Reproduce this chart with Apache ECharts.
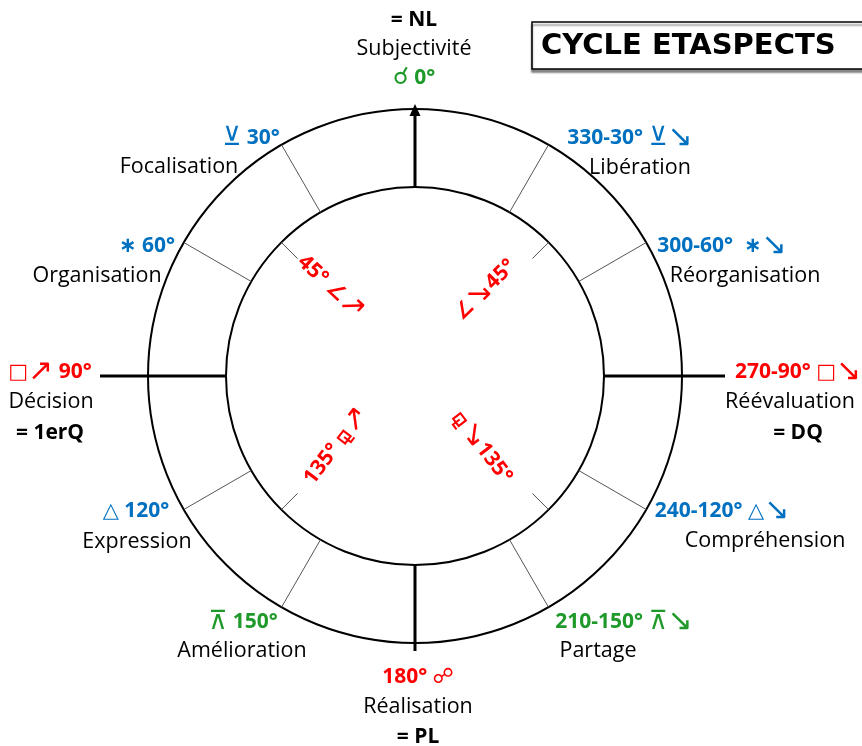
<!DOCTYPE html>
<html>
<head>
<meta charset="utf-8">
<script src="https://cdn.jsdelivr.net/npm/echarts@6/dist/echarts.min.js"></script>
<style>html,body{margin:0;padding:0;background:#fff}#c{width:862px;height:746px}</style>
</head>
<body>
<div id="c"></div>
<script>
// ---- data ----
const TITLE = 'CYCLE ETASPECTS';
const MAJOR_ANGLES = [0, 90, 180, 270];
const MAJOR_OUTER_R = [266, 315, 275, 310];
const MINOR_ANGLES = [30, 60, 120, 150, 210, 240, 300, 330];
const INNER_TICK_ANGLES = [45, 135, 225, 315];
const RING_RADII = [189, 267];
const ASPECT_LABELS = ['☌ 0°', '⊻ 30°', '330-30° ⊻↘', '∗ 60°', '300-60°  ∗↘', '□↗ 90°', '270-90° □↘',
  '△ 120°', '240-120° △↘', '⊼ 150°', '210-150° ⊼↘', '180° ☍'];
const ASPECT_KIND = ['g', 'b', 'b', 'b', 'b', 'r', 'r', 'b', 'b', 'g', 'g', 'r'];
const PHASE_NAMES = ['Subjectivité', 'Focalisation', 'Libération', 'Organisation', 'Réorganisation', 'Décision',
  'Réévaluation', 'Expression', 'Compréhension', 'Amélioration', 'Partage', 'Réalisation'];
const LUNAR_NAMES = ['= NL', '= 1erQ', '= DQ', '= PL'];
const INNER_LABELS = ['45° ∠↗', '∠↘45°', '135° ⚼↗', '⚼↘135°'];

// ---- layout (positions / styles, kept separate) ----
const CX = 415, CY = 376;
const COLORS = { g: '#1f9a2a', b: '#0070C0', r: '#FF0000' };
const ASPECT_POS = [[414,78],[251,138],[630,138],[147,246],[722,246],[50,372],[798,372],[136,511],[722,511],[243,622],[624,622],[418,677]];
const NAME_POS = [[414,49],[179,167],[640,168],[97,276],[745,276],[51,402],[790,402],[137,542],[765,541],[242,651],[598,651],[418,707]];
const LUNAR_POS = [[414,20],[50,433],[798,433],[418,737]];
const INNER_POS = [[331,287],[485,290],[336,446],[482,447]];
const INNER_ROT = [-0.75, 0.78, 0.92, -0.92];
const FONT = '"Open Sans", "DejaVu Sans", sans-serif';

const chart = echarts.init(document.getElementById('c'));

function hiddenAngle(i) {
  return { polarIndex: i, type: 'value', min: 0, max: 360, startAngle: 90, clockwise: false,
    axisLine: { show: false }, axisTick: { show: false }, axisLabel: { show: false }, splitLine: { show: false } };
}
function hiddenRadius(i, max) {
  return { polarIndex: i, type: 'value', min: 0, max: max,
    axisLine: { show: false }, axisTick: { show: false }, axisLabel: { show: false }, splitLine: { show: false } };
}

const SPOKE_R = 330;
const polar = [{ center: [CX, CY], radius: SPOKE_R }];
const angleAxis = [hiddenAngle(0)];
const radiusAxis = [hiddenRadius(0, SPOKE_R)];
RING_RADII.forEach((r, k) => {
  polar.push({ center: [CX, CY], radius: r });
  const a = hiddenAngle(k + 1);
  a.axisLine = { show: true, lineStyle: { color: '#000', width: 2 } };
  angleAxis.push(a);
  radiusAxis.push(hiddenRadius(k + 1, r));
});

const series = [];
MAJOR_ANGLES.forEach((ang, i) => {
  const end = { value: [MAJOR_OUTER_R[i], ang] };
  if (ang === 0) { end.symbol = 'triangle'; end.symbolSize = [11, 12]; }
  series.push({ type: 'line', coordinateSystem: 'polar', polarIndex: 0, silent: true, animation: false,
    symbol: 'none', showSymbol: true, itemStyle: { color: '#000' },
    lineStyle: { color: '#000', width: 3 }, data: [[RING_RADII[0], ang], end] });
});
MINOR_ANGLES.forEach(ang => {
  series.push({ type: 'line', coordinateSystem: 'polar', polarIndex: 0, silent: true, animation: false,
    symbol: 'none', lineStyle: { color: '#555', width: 1 }, data: [[RING_RADII[0], ang], [RING_RADII[1], ang]] });
});
INNER_TICK_ANGLES.forEach(ang => {
  series.push({ type: 'line', coordinateSystem: 'polar', polarIndex: 0, silent: true, animation: false,
    symbol: 'none', lineStyle: { color: '#555', width: 1 }, data: [[RING_RADII[0], ang], [166, ang]] });
});

function txt(text, pos, fill, weight, size, rot) {
  const font = (weight || 'normal') + ' ' + (size || 20) + 'px ' + FONT;
  const style = { fill: fill, font: font,
    textAlign: 'center', textVerticalAlign: 'middle', align: 'center', verticalAlign: 'middle' };
  if (/[↗↘⊻⊼☌]/.test(text)) {
    style.text = text.replace(/([↗↘])/g, '{w|$1}').replace(/([⊻⊼])/g, '{s|$1}').replace(/(☌)/g, '{c|$1}');
    style.rich = {
      w: { fill: fill, font: 'normal ' + Math.round(size * 1.45) + 'px "DejaVu Sans", sans-serif' },
      s: { fill: fill, font: 'normal ' + Math.round(size * 1.25) + 'px "DejaVu Sans", sans-serif' },
      c: { fill: fill, font: 'bold ' + Math.round(size * 1.15) + 'px "DejaVu Sans", sans-serif' }
    };
  } else {
    style.text = text;
  }
  return { type: 'text', x: pos[0], y: pos[1], rotation: rot || 0, silent: true, style: style };
}
const graphic = [];
ASPECT_LABELS.forEach((t, i) => graphic.push(txt(t, ASPECT_POS[i], COLORS[ASPECT_KIND[i]], 'bold', 21)));
PHASE_NAMES.forEach((t, i) => graphic.push(txt(t, NAME_POS[i], '#000', 'normal', 21.5)));
LUNAR_NAMES.forEach((t, i) => graphic.push(txt(t, LUNAR_POS[i], '#000', 'bold', 21)));
INNER_LABELS.forEach((t, i) => graphic.push(txt(t, INNER_POS[i], COLORS.r, 'bold', 21, INNER_ROT[i])));
graphic.push({ type: 'rect', silent: true, shape: { x: 532, y: 22, width: 340, height: 47 },
  style: { fill: '#fff', stroke: '#000', lineWidth: 1.5, shadowColor: 'rgba(0,0,0,0.45)', shadowOffsetY: 3, shadowBlur: 2 } });
graphic.push({ type: 'text', x: 541, y: 46, silent: true,
  style: { text: TITLE, fill: '#000', font: 'bold 29px "DejaVu Sans", sans-serif', textAlign: 'left', textVerticalAlign: 'middle', align: 'left', verticalAlign: 'middle' } });

chart.setOption({
  animation: false,
  backgroundColor: '#fff',
  polar: polar, angleAxis: angleAxis, radiusAxis: radiusAxis,
  series: series,
  graphic: graphic
});
</script>
</body>
</html>
